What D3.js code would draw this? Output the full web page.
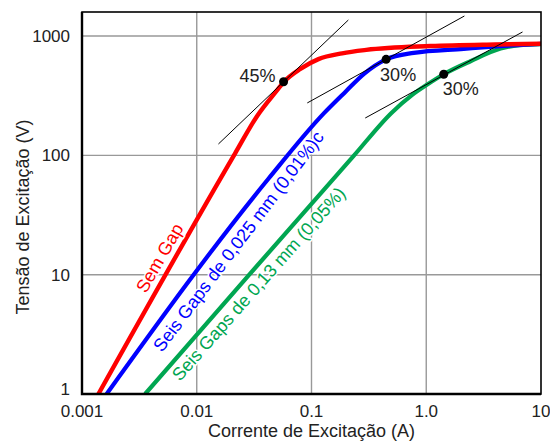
<!DOCTYPE html>
<html>
<head>
<meta charset="utf-8">
<script src="https://cdn.jsdelivr.net/npm/d3@7"></script>
<style>
  body { margin: 0; background: #fff; }
  svg { font-family: 'Liberation Sans', Arial, sans-serif; }
</style>
</head>
<body>
<svg width="550" height="445"></svg>
<script>
// curves: [current (A), voltage (V)]
const semGap = [[0.00139, 1], [0.0216, 104], [0.0334, 212], [0.05, 350], [0.0571, 410], [0.08, 530],
  [0.115, 640], [0.185, 716], [0.3, 765], [1.09, 824], [4, 850], [10, 862]];
const gaps025 = [[0.00164, 1], [0.0423, 64], [0.128, 225], [0.2, 345], [0.285, 480], [0.447, 638],
  [0.778, 722], [2.12, 780], [4.74, 826], [10, 860]];
const gaps13 = [[0.00355, 1], [0.0292, 10.2], [0.233, 99], [0.5, 228], [0.75, 320], [1.02, 392],
  [1.42, 478], [2.43, 615], [4.45, 785], [6.5, 840], [10, 857]];

// tangent lines and knee points
const tangents = [
  [[0.01545, 124.5], [0.2094, 1362]],
  [[0.0919, 275], [2.15, 1472]],
  [[0.294, 205.6], [6.9, 1081]]
];
const knees = [[0.0571, 414], [0.447, 638], [1.42, 478]];
const kneeLabels = ['45%', '30%', '30%'];

const xTicks = [0.001, 0.01, 0.1, 1, 10];
const xTickLabels = ['0.001', '0.01', '0.1', '1.0', '10'];
const yTicks = [1, 10, 100, 1000];
const yTickLabels = ['1', '10', '100', '1000'];

const margin = {top: 12, right: 9, bottom: 51, left: 82};
const width = 550 - margin.left - margin.right;
const height = 445 - margin.top - margin.bottom;

const svg = d3.select('svg');
const g = svg.append('g').attr('transform', `translate(${margin.left},${margin.top})`);

const x = d3.scaleLog().domain([0.001, 10]).range([0, width]);
const y = d3.scaleLog().domain([1, 1590]).range([height, 0]);

// grid
g.append('g')
  .selectAll('line')
  .data(xTicks.slice(1, -1))
  .join('line')
    .attr('x1', d => x(d)).attr('x2', d => x(d))
    .attr('y1', 0).attr('y2', height)
    .attr('stroke', '#999').attr('stroke-width', 1.4);
g.append('g')
  .selectAll('line')
  .data(yTicks.slice(1))
  .join('line')
    .attr('x1', 0).attr('x2', width)
    .attr('y1', d => y(d)).attr('y2', d => y(d))
    .attr('stroke', '#999').attr('stroke-width', 1.4);

const line = d3.line()
  .x(d => x(d[0]))
  .y(d => y(d[1]))
  .curve(d3.curveMonotoneX);

g.append('defs').append('clipPath').attr('id', 'plot')
  .append('rect').attr('width', width).attr('height', height);

const curves = g.append('g').attr('clip-path', 'url(#plot)');
curves.append('path').datum(gaps13)
  .attr('d', line).attr('fill', 'none').attr('stroke', '#00a651').attr('stroke-width', 4.2);
curves.append('path').datum(gaps025)
  .attr('d', line).attr('fill', 'none').attr('stroke', '#0000ff').attr('stroke-width', 4.2);
curves.append('path').datum(semGap)
  .attr('d', line).attr('fill', 'none').attr('stroke', '#ff0000').attr('stroke-width', 4.4);

// curve labels, white halo cuts the grid like in the original
const curveLabels = [
  {text: 'Sem Gap', at: [0.00362, 6.9], angle: -60, color: '#ff0000'},
  {text: 'Seis Gaps de 0,025 mm (0,01%)c', at: [0.00498, 2.21], angle: -53, color: '#0000ff'},
  {text: 'Seis Gaps de 0,13 mm (0,05%)', at: [0.00714, 1.26], angle: -48.5, color: '#00a651'}
];
g.append('g')
  .selectAll('text')
  .data(curveLabels)
  .join('text')
    .attr('transform', d => `translate(${x(d.at[0])},${y(d.at[1])}) rotate(${d.angle})`)
    .attr('font-size', 18)
    .attr('fill', d => d.color)
    .attr('stroke', '#fff').attr('stroke-width', 3).attr('paint-order', 'stroke')
    .text(d => d.text);

g.append('g')
  .selectAll('line')
  .data(tangents)
  .join('line')
    .attr('x1', d => x(d[0][0])).attr('y1', d => y(d[0][1]))
    .attr('x2', d => x(d[1][0])).attr('y2', d => y(d[1][1]))
    .attr('stroke', '#000').attr('stroke-width', 1);

g.append('g')
  .selectAll('circle')
  .data(knees)
  .join('circle')
    .attr('cx', d => x(d[0])).attr('cy', d => y(d[1]))
    .attr('r', 4.5).attr('fill', '#000');

// percent labels sit next to their knee points
const labelOffsets = [[-44, 0], [-6, 22], [-1, 21]];
g.append('g')
  .selectAll('text')
  .data(knees)
  .join('text')
    .attr('x', (d, i) => x(d[0]) + labelOffsets[i][0])
    .attr('y', (d, i) => y(d[1]) + labelOffsets[i][1])
    .attr('font-size', 18)
    .attr('fill', '#222')
    .text((d, i) => kneeLabels[i]);

// frame
g.append('rect')
  .attr('width', width).attr('height', height)
  .attr('fill', 'none').attr('stroke', '#000').attr('stroke-width', 1.6);
g.append('path')
  .attr('d', `M0,0V${height}H${width}`)
  .attr('fill', 'none').attr('stroke', '#000').attr('stroke-width', 2.4);

// tick labels
g.append('g')
  .selectAll('text')
  .data(xTicks)
  .join('text')
    .attr('x', d => x(d))
    .attr('y', height + 23)
    .attr('text-anchor', 'middle')
    .attr('font-size', 17)
    .attr('fill', '#222')
    .text((d, i) => xTickLabels[i]);
// the "1" sits a bit above the axis line in the original
g.append('g')
  .selectAll('text')
  .data(yTicks)
  .join('text')
    .attr('x', -12)
    .attr('y', d => y(d) - (d === 1 ? 5 : 0))
    .attr('dy', '0.35em')
    .attr('text-anchor', 'end')
    .attr('font-size', 17)
    .attr('fill', '#222')
    .text((d, i) => yTickLabels[i]);

// axis titles
svg.append('text')
  .attr('x', margin.left + x(0.1))
  .attr('y', 437)
  .attr('text-anchor', 'middle')
  .attr('font-size', 18)
  .attr('fill', '#222')
  .text('Corrente de Excitação (A)');
svg.append('text')
  .attr('transform', `translate(29,${margin.top + height / 2 + 14}) rotate(-90)`)
  .attr('text-anchor', 'middle')
  .attr('font-size', 18)
  .attr('fill', '#222')
  .text('Tensão de Excitação (V)');
</script>
</body>
</html>
